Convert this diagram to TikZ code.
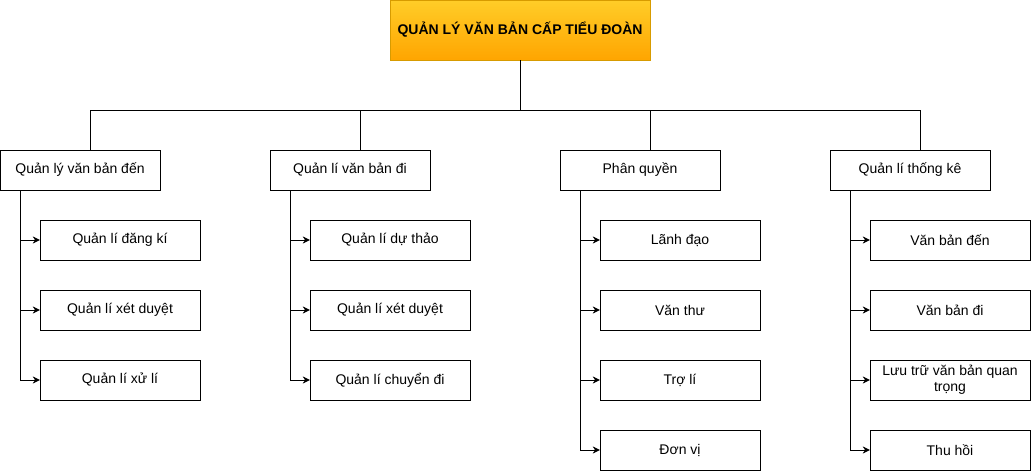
\documentclass[tikz,border=0pt]{standalone}
\usepackage{fontspec}
\setmainfont{Liberation Sans}
\usetikzlibrary{arrows.meta}
\definecolor{topfill}{HTML}{FFCD28}
\definecolor{botfill}{HTML}{FFA500}
\definecolor{orangeline}{HTML}{D79B00}
\tikzset{>={Stealth[length=7pt,width=7pt]},font=\fontsize{14}{16}\selectfont,line width=0.8pt}
\tikzset{
  head/.style={draw=orangeline,top color=topfill,bottom color=botfill,minimum width=260pt,minimum height=60pt,inner sep=0pt,font=\fontsize{14}{16}\selectfont\bfseries},
  group/.style={draw,fill=white,minimum width=160pt,minimum height=40pt,inner sep=0pt},
  task/.style={draw,fill=white,minimum width=160pt,minimum height=40pt,inner sep=0pt,align=center}
}

\begin{document}
\begin{tikzpicture}[x=1pt,y=-1pt]
\useasboundingbox (0,0) rectangle (1031,472);

\node[head] (QL) at (520,30) {QUẢN LÝ VĂN BẢN CẤP TIỂU ĐOÀN};
\coordinate (bus) at (520,110);

\node[group] (den) at (80,170) {Quản lý văn bản đến};
\node[group] (di) at (350,170) {Quản lí văn bản đi};
\node[group] (pq) at (640,170) {Phân quyền};
\node[group] (tk) at (910,170) {Quản lí thống kê};

\draw (QL.south) -- (bus);
\draw (bus) -| ([xshift=10pt]den.north);
\draw (bus) -| ([xshift=10pt]di.north);
\draw (bus) -| ([xshift=10pt]pq.north);
\draw (bus) -| ([xshift=10pt]tk.north);

% Quan ly van ban den
\node[task] (den1) at (120,240) {Quản lí đăng kí};
\node[task] (den2) at (120,310) {Quản lí xét duyệt};
\node[task] (den3) at (120,380) {Quản lí xử lí};
\path[->] ([xshift=-60pt]den.south) edge[to path={|- (\tikztotarget)}] (den1.west);
\path[->] ([xshift=-60pt]den.south) edge[to path={|- (\tikztotarget)}] (den2.west);
\path[->] ([xshift=-60pt]den.south) edge[to path={|- (\tikztotarget)}] (den3.west);

% Quan li van ban di
\node[task] (di1) at (390,240) {Quản lí dự thảo};
\node[task] (di2) at (390,310) {Quản lí xét duyệt};
\node[task] (di3) at (390,380) {Quản lí chuyển đi};
\path[->] ([xshift=-60pt]di.south) edge[to path={|- (\tikztotarget)}] (di1.west);
\path[->] ([xshift=-60pt]di.south) edge[to path={|- (\tikztotarget)}] (di2.west);
\path[->] ([xshift=-60pt]di.south) edge[to path={|- (\tikztotarget)}] (di3.west);

% Phan quyen
\node[task] (pq1) at (680,240) {Lãnh đạo};
\node[task] (pq2) at (680,310) {Văn thư};
\node[task] (pq3) at (680,380) {Trợ lí};
\node[task] (pq4) at (680,450) {Đơn vị};
\path[->] ([xshift=-60pt]pq.south) edge[to path={|- (\tikztotarget)}] (pq1.west);
\path[->] ([xshift=-60pt]pq.south) edge[to path={|- (\tikztotarget)}] (pq2.west);
\path[->] ([xshift=-60pt]pq.south) edge[to path={|- (\tikztotarget)}] (pq3.west);
\path[->] ([xshift=-60pt]pq.south) edge[to path={|- (\tikztotarget)}] (pq4.west);

% Quan li thong ke
\node[task] (tk1) at (950,240) {Văn bản đến};
\node[task] (tk2) at (950,310) {Văn bản đi};
\node[task] (tk3) at (950,380) {Lưu trữ văn bản quan\\trọng};
\node[task] (tk4) at (950,450) {Thu hồi};
\path[->] ([xshift=-60pt]tk.south) edge[to path={|- (\tikztotarget)}] (tk1.west);
\path[->] ([xshift=-60pt]tk.south) edge[to path={|- (\tikztotarget)}] (tk2.west);
\path[->] ([xshift=-60pt]tk.south) edge[to path={|- (\tikztotarget)}] (tk3.west);
\path[->] ([xshift=-60pt]tk.south) edge[to path={|- (\tikztotarget)}] (tk4.west);

\end{tikzpicture}
\end{document}
